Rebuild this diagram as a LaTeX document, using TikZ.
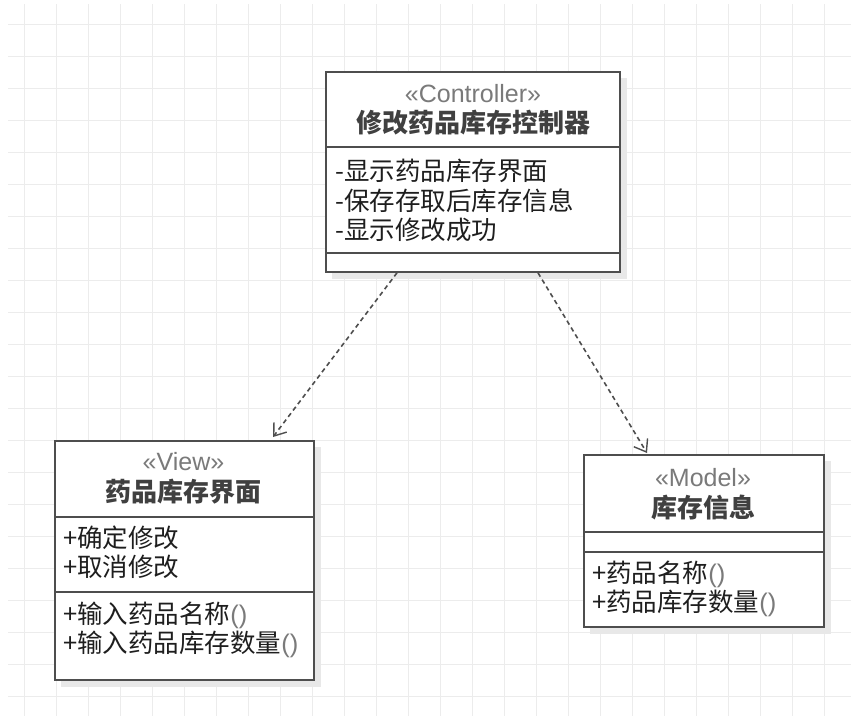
\documentclass[tikz,border=0pt]{standalone}
\usepackage{fontspec}
\setmainfont{Liberation Sans}
\newfontfamily\cjk{Noto Sans CJK SC}
\usetikzlibrary{arrows.meta,calc}
\definecolor{gridc}{HTML}{ECECEC}
\definecolor{boxc}{HTML}{4E4E4E}
\definecolor{stc}{HTML}{7A7A7A}
\definecolor{txtc}{HTML}{1E1E1E}
\definecolor{shadc}{HTML}{E8E8E8}
\tikzset{
  gridline/.style={draw=gridc, line width=1pt},
  umlbox/.style={draw=boxc, line width=1.8pt, fill=white, inner sep=0pt, anchor=north west, rectangle},
  umlshadow/.style={fill=shadc, draw=none},
  divider/.style={draw=boxc, line width=1.8pt},
  stereo/.style={font=\fontsize{25}{28}\selectfont, text=stc, inner sep=0pt},
  ctitle/.style={font=\cjk\bfseries\fontsize{26}{29}\selectfont, text=txtc!85!white, inner sep=0pt},
  member/.style={font=\cjk\fontsize{25.5}{28}\selectfont, text=txtc, inner sep=0pt, anchor=west},
  dep/.style={draw=boxc, line width=1.6pt, dash pattern=on 4.5pt off 3.5pt, -{Straight Barb[length=11pt,width=16pt,line width=1.4pt]}},
}
\newcommand{\parens}{{\fontspec{Liberation Sans}\color{stc}()}}
\begin{document}
\begin{tikzpicture}[x=1pt,y=-1pt]
\useasboundingbox (0,0) rectangle (851,716);
\fill[white] (0,0) rectangle (851,716);
% grid
\foreach \gx in {24,56,...,850} \draw[gridline] (\gx,4) -- (\gx,716);
\foreach \gy in {24,56,...,716} \draw[gridline] (8,\gy) -- (851,\gy);
% shadows
\fill[umlshadow] (332,78) rectangle (627,279);
\fill[umlshadow] (61,447) rectangle (321,687);
\fill[umlshadow] (590,461) rectangle (831,634);
% Controller
\node[umlbox, minimum width=294pt, minimum height=200pt] (ctrl) at (325,71) {};
\draw[divider] (ctrl.west |- 0,147) -- (ctrl.east |- 0,147);
\draw[divider] (ctrl.west |- 0,253) -- (ctrl.east |- 0,253);
\node[stereo] (ctrlst) at (473,94) {«Controller»};
\node[ctitle] (ctrlti) at (473,123) {修改药品库存控制器};
\node[member] (c1) at (335,171) {-显示药品库存界面};
\node[member] (c2) at (335,201) {-保存存取后库存信息};
\node[member] (c3) at (335,230) {-显示修改成功};
% View
\node[umlbox, minimum width=259pt, minimum height=239pt] (view) at (54,440) {};
\draw[divider] (view.west |- 0,517) -- (view.east |- 0,517);
\draw[divider] (view.west |- 0,592) -- (view.east |- 0,592);
\node[stereo] (viewst) at (183.5,462) {«View»};
\node[ctitle] (viewti) at (183.5,492) {药品库存界面};
\node[member] (v1) at (63,538) {+确定修改};
\node[member] (v2) at (63,567) {+取消修改};
\node[member] (v3) at (63,615) {+输入药品名称\parens};
\node[member] (v4) at (63,644) {+输入药品库存数量\parens};
% Model
\node[umlbox, minimum width=240pt, minimum height=172pt] (model) at (583,454) {};
\draw[divider] (model.west |- 0,532) -- (model.east |- 0,532);
\draw[divider] (model.west |- 0,552) -- (model.east |- 0,552);
\node[stereo] (modelst) at (703,478) {«Model»};
\node[ctitle] (modelti) at (703,508) {库存信息};
\node[member] (m1) at (592,574) {+药品名称\parens};
\node[member] (m2) at (592,603) {+药品库存数量\parens};
% dependencies
\coordinate (a1s) at ($(ctrl.south west)+(72,0)$);
\coordinate (a1e) at ($(view.north west)+(219,-3)$);
\coordinate (a2s) at ($(ctrl.south west)+(213,0)$);
\coordinate (a2e) at ($(model.north west)+(64,-1)$);
\draw[dep] (a1s) -- (a1e);
\draw[dep] (a2s) -- (a2e);
\end{tikzpicture}
\end{document}
